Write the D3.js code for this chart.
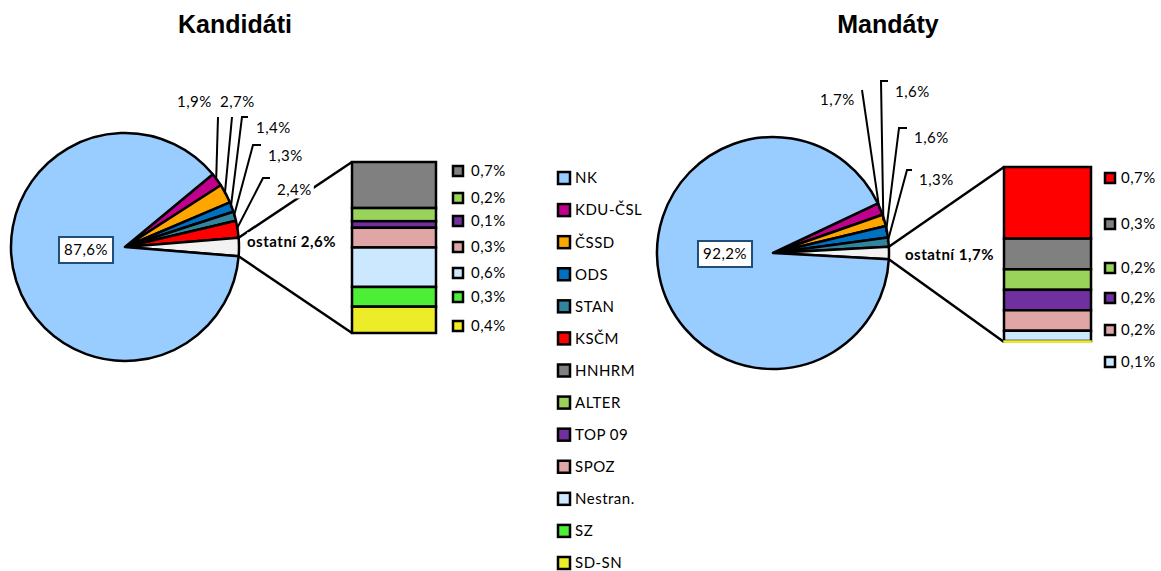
<!DOCTYPE html>
<html><head><meta charset="utf-8">
<script src="https://cdn.jsdelivr.net/npm/d3@7/dist/d3.min.js"></script>
<style>
body{margin:0;background:#fff;}
svg{display:block;}
text{font-family:Lato,"Open Sans",sans-serif;letter-spacing:0.5px;}
.title{font-family:"Liberation Sans",Arial,sans-serif;font-weight:bold;letter-spacing:0;}
</style></head><body>
<svg id="chart" width="1161" height="571"></svg>
<script>
// ---- data ----
const parties = ["NK","KDU-ČSL","ČSSD","ODS","STAN","KSČM","HNHRM","ALTER","TOP 09","SPOZ","Nestran.","SZ","SD-SN"];
const partyColors = ["#99CCFF","#C0008C","#FFA500","#0070C0","#31849B","#FF0000","#808080","#99D35A","#7030A0","#E0A6A6","#CCE8FF","#4CEF36","#ECEC28"];
const otherName = "ostatní";
const otherColor = "#F2F2F2";

// Kandidáti
const candPieParties = ["KDU-ČSL","ČSSD","ODS","STAN","KSČM","ostatní","NK"];
const candPieValues  = [1.9, 2.7, 1.4, 1.3, 2.4, 2.6, 87.6];
const candBarParties = ["HNHRM","ALTER","TOP 09","SPOZ","Nestran.","SZ","SD-SN"];
const candBarValues  = [0.7, 0.2, 0.1, 0.3, 0.6, 0.3, 0.4];

// Mandáty
const mandPieParties = ["KDU-ČSL","ČSSD","ODS","STAN","ostatní","NK"];
const mandPieValues  = [1.7, 1.6, 1.6, 1.3, 1.7, 92.2];
const mandBarParties = ["KSČM","HNHRM","ALTER","TOP 09","SPOZ","Nestran.","SD-SN"];
const mandBarValues  = [0.7, 0.3, 0.2, 0.2, 0.2, 0.1, 0.01];

// ---- layout ----
const charts = [
  {title:"Kandidáti", titleX:235,
   pieParties:candPieParties, pieValues:candPieValues, barParties:candBarParties, barValues:candBarValues,
   cx:125, cy:247, r:114, bar:{x:352, y:162, w:84, h:171},
   markerX:458, textX:471, barLabelY:[171,198,221,247,273,297,326],
   pieLabels:{"KDU-ČSL":{tx:177,ty:102,ax:218,ay:117,hook:0},
              "ČSSD":{tx:220,ty:102,ax:232,ay:117,hook:0},
              "ODS":{tx:256,ty:128,ax:242,ay:117,hook:6},
              "STAN":{tx:268,ty:156,ax:253,ay:145,hook:8},
              "KSČM":{tx:277,ty:190,ax:263,ay:178,hook:7}},
   mainLabel:{x:86, y:250}, otherLabel:{x:247, y:242}},
  {title:"Mandáty", titleX:888,
   pieParties:mandPieParties, pieValues:mandPieValues, barParties:mandBarParties, barValues:mandBarValues,
   cx:773, cy:253, r:116, bar:{x:1004, y:167, w:87, h:175},
   markerX:1110, textX:1121, barLabelY:[178,224,268,298,330,362,null],
   pieLabels:{"KDU-ČSL":{tx:820,ty:100,ax:862,ay:90,hook:0},
              "ČSSD":{tx:895,ty:92,ax:881,ay:81,hook:7},
              "ODS":{tx:914,ty:138,ax:899,ay:128,hook:8},
              "STAN":{tx:919,ty:180,ax:907,ay:170,hook:5}},
   mainLabel:{x:725, y:254}, otherLabel:{x:905, y:255}}
];

const color = d3.scaleOrdinal([...parties, otherName], [...partyColors, otherColor]);
const fmt = v => v.toFixed(1).replace(".", ",") + "%";
const svg = d3.select("#chart");

charts.forEach(c => {
  const g = svg.append("g");
  g.append("text").attr("class","title").attr("x",c.titleX).attr("y",33)
    .attr("text-anchor","middle").attr("font-size",25).text(c.title);

  const total = d3.sum(c.pieValues);
  const oi = c.pieParties.indexOf(otherName);
  const before = d3.sum(c.pieValues.slice(0, oi));
  const a0 = Math.PI/2 - 2*Math.PI*(before + c.pieValues[oi]/2)/total;
  const pie = d3.pie().sort(null).value(d => d.v).startAngle(a0).endAngle(a0 + 2*Math.PI);
  const arcs = pie(c.pieParties.map((p,i) => ({p, v:c.pieValues[i]})));
  const arc = d3.arc().innerRadius(0).outerRadius(c.r);
  const pt = (a, r) => [c.cx + r*Math.sin(a), c.cy - r*Math.cos(a)];

  const pg = g.append("g").attr("transform", `translate(${c.cx},${c.cy})`);
  pg.selectAll("path").data(arcs).join("path")
    .attr("d", arc).attr("fill", d => color(d.data.p))
    .attr("stroke","#000").attr("stroke-width",2.5).attr("stroke-linejoin","round");

  // connectors
  const oa = arcs[oi];
  const pTop = pt(oa.startAngle, c.r), pBot = pt(oa.endAngle, c.r);
  g.append("line").attr("x1",pTop[0]).attr("y1",pTop[1]).attr("x2",c.bar.x).attr("y2",c.bar.y)
    .attr("stroke","#000").attr("stroke-width",2.5);
  g.append("line").attr("x1",pBot[0]).attr("y1",pBot[1]).attr("x2",c.bar.x).attr("y2",c.bar.y+c.bar.h)
    .attr("stroke","#000").attr("stroke-width",2.5);

  // bar
  const bsum = d3.sum(c.barValues);
  const y = d3.scaleLinear().domain([0,bsum]).range([c.bar.y, c.bar.y + c.bar.h]);
  let cum = 0;
  const segs = c.barValues.map((v,i) => { const s = {p:c.barParties[i], v, y0:cum, y1:cum+v, ly:c.barLabelY[i]}; cum += v; return s; });
  g.selectAll("rect.seg").data(segs).join("rect").attr("class","seg")
    .attr("x",c.bar.x).attr("width",c.bar.w)
    .attr("y",d => y(d.y0)).attr("height",d => y(d.y1)-y(d.y0))
    .attr("fill",d => color(d.p)).attr("stroke",d => d.v < 0.05 ? color(d.p) : "#000").attr("stroke-width",d => d.v < 0.05 ? 1.5 : 2.5);

  // bar labels
  const lab = segs.filter(d => d.ly != null);
  g.selectAll("rect.mk").data(lab).join("rect").attr("class","mk")
    .attr("x",c.markerX-5).attr("y",d => d.ly-5).attr("width",10).attr("height",10)
    .attr("fill",d => color(d.p)).attr("stroke","#000").attr("stroke-width",2.5);
  g.selectAll("text.bl").data(lab).join("text").attr("class","bl")
    .attr("x",c.textX).attr("y",d => d.ly).attr("dy","0.36em").attr("font-size",15)
    .text(d => fmt(d.v));

  // leader lines & pie labels
  arcs.forEach(d => {
    const L = c.pieLabels[d.data.p];
    if (!L) return;
    const mid = (d.startAngle + d.endAngle)/2;
    const e = pt(mid, c.r - 1);
    g.append("path").attr("d", `M${L.ax+L.hook},${L.ay}L${L.ax},${L.ay}L${e[0]},${e[1]}`)
      .attr("fill","none").attr("stroke","#000").attr("stroke-width",2);
  });
  arcs.forEach(d => {
    const L = c.pieLabels[d.data.p];
    if (!L) return;
    const t = g.append("text").attr("x",L.tx).attr("y",L.ty).attr("dy","0.36em").attr("font-size",15).text(fmt(d.data.v));
    const bb = t.node().getBBox();
    g.insert("rect", () => t.node()).attr("x",bb.x-2).attr("y",bb.y).attr("width",bb.width+4).attr("height",bb.height).attr("fill","#fff");
  });

  // main label with box
  const main = arcs.find(d => d.data.p === "NK");
  const mt = g.append("text").attr("x",c.mainLabel.x).attr("y",c.mainLabel.y).attr("dy","0.36em")
    .attr("text-anchor","middle").attr("font-size",15).text(fmt(main.data.v));
  const mb = mt.node().getBBox();
  g.insert("rect", () => mt.node()).attr("x",mb.x-5).attr("y",c.mainLabel.y-13).attr("width",mb.width+10).attr("height",26)
    .attr("fill","#fff").attr("stroke","#1F4E79").attr("stroke-width",2);

  // ostatní label
  const ot = g.append("text").attr("x",c.otherLabel.x).attr("y",c.otherLabel.y).attr("dy","0.36em")
    .attr("font-size",15).attr("font-weight","bold").text(otherName + " " + fmt(oa.data.v));
  const ob = ot.node().getBBox();
  g.insert("rect", () => ot.node()).attr("x",ob.x).attr("y",ob.y).attr("width",ob.width).attr("height",ob.height).attr("fill","#fff");
});

// legend
const legY = d3.scalePoint().domain(parties).range([178, 563]);
const lg = svg.append("g");
lg.selectAll("rect").data(parties).join("rect")
  .attr("x",558).attr("y",d => legY(d)-6).attr("width",12).attr("height",12)
  .attr("fill",d => color(d)).attr("stroke","#000").attr("stroke-width",2.5);
lg.selectAll("text").data(parties).join("text")
  .attr("x",575).attr("y",d => legY(d)).attr("dy","0.36em").attr("font-size",15).text(d => d);
</script>
</body></html>
